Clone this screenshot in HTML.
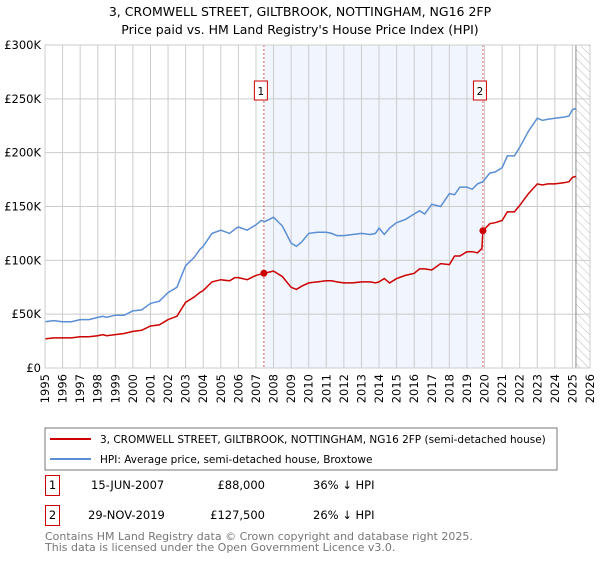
<!DOCTYPE html>
<html><head><meta charset="utf-8"><style>
body{margin:0;width:600px;height:560px;background:#fff;font-family:"Liberation Sans","DejaVu Sans",sans-serif;overflow:hidden}
svg text{font-family:"DejaVu Sans","Liberation Sans",sans-serif}
</style></head><body>
<svg id="chart" width="600" height="560">
<text x="300" y="16" text-anchor="middle" font-size="12.5">3, CROMWELL STREET, GILTBROOK, NOTTINGHAM, NG16 2FP</text>
<text x="300" y="34" text-anchor="middle" font-size="12.5">Price paid vs. HM Land Registry's House Price Index (HPI)</text>
<g id="plot"></g>
<rect x="45" y="428" width="512" height="42" fill="#fff" stroke="#777"/>
<line x1="50" y1="439" x2="91" y2="439" stroke="#cc0000" stroke-width="2"/>
<text x="100" y="443" font-size="10.5">3, CROMWELL STREET, GILTBROOK, NOTTINGHAM, NG16 2FP (semi-detached house)</text>
<line x1="50" y1="459" x2="91" y2="459" stroke="#5b8fd4" stroke-width="2"/>
<text x="100" y="463" font-size="10.5">HPI: Average price, semi-detached house, Broxtowe</text>
<g font-size="11.5">
<rect x="45.5" y="475.5" width="14" height="20" fill="none" stroke="#cc0000"/>
<text x="52.5" y="489" text-anchor="middle">1</text>
<text x="91" y="489">15-JUN-2007</text>
<text x="265" y="489" text-anchor="end">£88,000</text>
<text x="313" y="489">36% ↓ HPI</text>
<rect x="45.5" y="505.5" width="14" height="20" fill="none" stroke="#cc0000"/>
<text x="52.5" y="519" text-anchor="middle">2</text>
<text x="88" y="519">29-NOV-2019</text>
<text x="265" y="519" text-anchor="end">£127,500</text>
<text x="313" y="519">26% ↓ HPI</text>
</g>
<text x="45" y="540" font-size="11" fill="#777">Contains HM Land Registry data © Crown copyright and database right 2025.</text>
<text x="45" y="551" font-size="11" fill="#777">This data is licensed under the Open Government Licence v3.0.</text>
</svg>
<script>
const hpiDates=[1995,1995.5,1996,1996.5,1997,1997.5,1998,1998.3,1998.5,1999,1999.5,2000,2000.5,2001,2001.5,2002,2002.5,2003,2003.5,2003.8,2004,2004.5,2005,2005.5,2005.8,2006,2006.5,2007,2007.3,2007.5,2008,2008.5,2009,2009.3,2009.6,2010,2010.5,2011,2011.3,2011.6,2012,2012.5,2013,2013.5,2013.8,2014,2014.3,2014.6,2015,2015.5,2016,2016.3,2016.6,2017,2017.5,2018,2018.3,2018.6,2019,2019.3,2019.6,2019.9,2020.3,2020.6,2021,2021.3,2021.7,2022,2022.5,2023,2023.3,2023.6,2024,2024.5,2024.8,2025,2025.2];
const hpiValues=[43,44,43,43,45,45,47,48,47,49,49,53,54,60,62,70,75,95,103,110,113,125,128,125,129,131,128,133,137,136,140,132,116,113,117,125,126,126,125,123,123,124,125,124,125,130,124,130,135,138,143,146,143,152,150,162,161,168,168,166,171,173,181,182,186,197,197,205,220,232,230,231,232,233,234,240,241];
const propDates=[1995,1995.5,1996,1996.5,1997,1997.5,1998,1998.3,1998.5,1999,1999.5,2000,2000.5,2001,2001.5,2002,2002.5,2003,2003.5,2003.8,2004,2004.5,2005,2005.5,2005.8,2006,2006.5,2007,2007.45,2008,2008.5,2009,2009.3,2009.6,2010,2010.5,2011,2011.3,2011.6,2012,2012.5,2013,2013.5,2013.8,2014,2014.3,2014.6,2015,2015.5,2016,2016.3,2016.6,2017,2017.5,2018,2018.3,2018.6,2019,2019.3,2019.6,2019.85,2019.91,2020.3,2020.6,2021,2021.3,2021.7,2022,2022.5,2023,2023.3,2023.6,2024,2024.5,2024.8,2025,2025.2];
const propValues=[27,28,28,28,29,29,30,31,30,31,32,34,35,39,40,45,48,61,66,70,72,80,82,81,84,84,82,86,88,90,85,75,73,76,79,80,81,81,80,79,79,80,80,79,80,83,79,83,86,88,92,92,91,97,96,104,104,108,108,107,111,127.5,134,135,137,145,145,151,162,171,170,171,171,172,173,177,178];
const saleDates=[2007.45,2019.91];
const saleValues=[88,127.5];
const saleLabels=["1","2"];
const yTicks=[0,50,100,150,200,250,300];
const yTickLabels=["£0","£50K","£100K","£150K","£200K","£250K","£300K"];
const xTicks=[1995,1996,1997,1998,1999,2000,2001,2002,2003,2004,2005,2006,2007,2008,2009,2010,2011,2012,2013,2014,2015,2016,2017,2018,2019,2020,2021,2022,2023,2024,2025,2026];

const L=45,R=590,T=45,B=368,x0=1995,x1=2026;
const X=v=>L+(v-x0)/(x1-x0)*(R-L);
const Y=v=>B-v/300*(B-T);
const NS="http://www.w3.org/2000/svg";
const g=document.getElementById('plot');
function mk(tag,attrs,parent){const e=document.createElementNS(NS,tag);for(const k in attrs)e.setAttribute(k,attrs[k]);(parent||g).appendChild(e);return e;}

let e=mk('rect',{x:X(saleDates[0]),y:T,width:X(saleDates[1])-X(saleDates[0]),height:B-T,fill:'#eef3fc',opacity:0.8});


const defs=mk('defs',{});
const pat=mk('pattern',{id:'hatch',width:6,height:6,patternUnits:'userSpaceOnUse',patternTransform:'rotate(-45)'},defs);
mk('line',{x1:0,y1:0,x2:0,y2:6,stroke:'#bbb','stroke-width':1},pat);
e=mk('rect',{x:X(2025.2),y:T,width:R-X(2025.2),height:B-T,fill:'url(#hatch)'});



xTicks.forEach(t=>{
  const l=mk('line',{x1:X(t),y1:T,x2:X(t),y2:B,stroke:'#ccc','stroke-width':1});
  
  
  const tx=mk('text',{x:0,y:0,'font-size':11.5,'text-anchor':'end',transform:`translate(${X(t)+4},${B+6}) rotate(-90)`});
  tx.textContent=t;
  
  
});
yTicks.forEach((t,i)=>{
  const l=mk('line',{x1:L,y1:Y(t),x2:R,y2:Y(t),stroke:'#ccc','stroke-width':1});
  
  
  const tx=mk('text',{x:L-4,y:Y(t)+4,'font-size':11.5,'text-anchor':'end'});
  tx.textContent=yTickLabels[i];
  
  
});
e=mk('line',{x1:X(2025.2),y1:T,x2:X(2025.2),y2:B,stroke:'#888','stroke-width':1});


saleDates.forEach((d,i)=>{
  const l=mk('line',{x1:X(d),y1:T,x2:X(d),y2:B,stroke:'#e06060','stroke-width':1,'stroke-dasharray':'2,2'});
  
  
  const r=mk('rect',{x:X(d)-9.5,y:81,width:13,height:19,fill:'#fff',stroke:'#cc0000'});
  
  
  const tx=mk('text',{x:X(d)-3,y:95,'font-size':10.5,'text-anchor':'middle'});
  tx.textContent=saleLabels[i];
  
  
});
function path(ds,vs,color,name){
  const p=mk('path',{d:ds.map((d,i)=>(i?'L':'M')+X(d).toFixed(1)+','+Y(vs[i]).toFixed(1)).join(''),fill:'none',stroke:color,'stroke-width':1.5});
  
  
}
path(hpiDates,hpiValues,'#5b8fd4','hpi-line');
path(propDates,propValues,'#cc0000','property-line');
saleDates.forEach((d,i)=>{
  const c=mk('circle',{cx:X(d),cy:Y(saleValues[i]),r:3.5,fill:'#cc0000'});
  
  
});
e=mk('rect',{x:L,y:T,width:R-L,height:B-T,fill:'none',stroke:'#ccc'});


</script>
</body></html>
